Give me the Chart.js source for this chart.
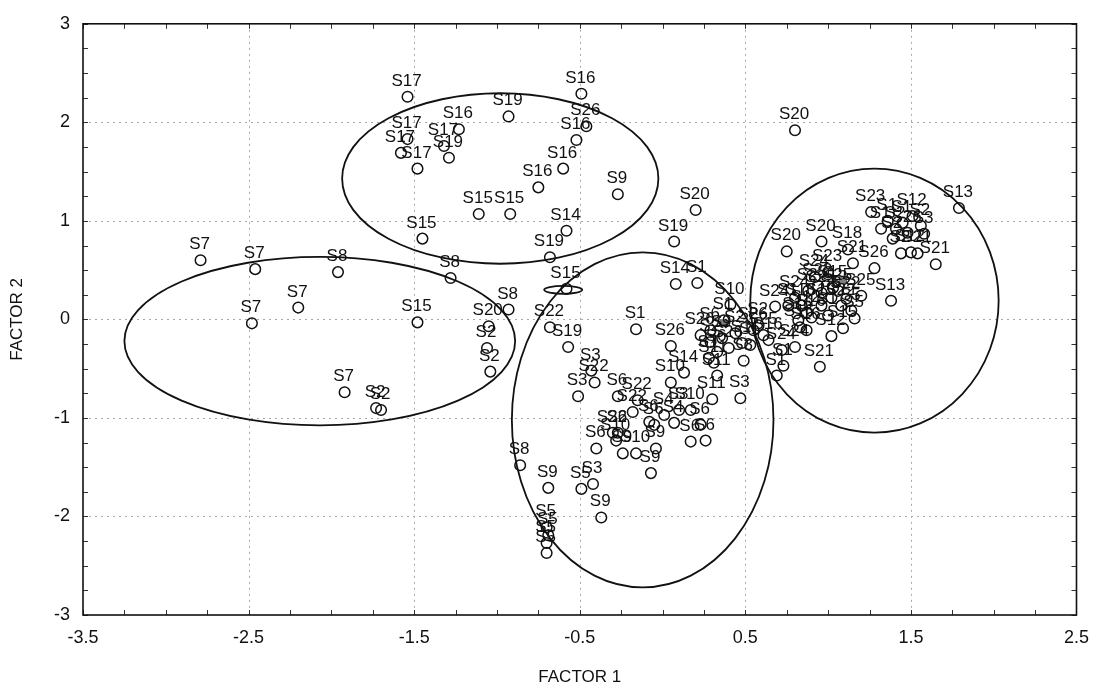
<!DOCTYPE html>
<html>
<head>
<meta charset="utf-8">
<script src="https://cdn.jsdelivr.net/npm/chart.js@4/dist/chart.umd.min.js"></script>
<style>
  html, body { margin: 0; padding: 0; background: #fff; }
  canvas { display: block; }
</style>
</head>
<body>
<canvas id="c" width="1101" height="692"></canvas>
<script>
// ---- data ----
const pointLabels = [
  // upper-left group
  'S17','S17','S17','S17','S16','S17','S19','S19','S16','S26','S16','S16','S16','S9','S15','S15','S14','S19','S15',
  // left group
  'S7','S7','S8','S7','S7','S15','S8','S8','S20','S2','S2','S7','S2','S2',
  // middle group
  'S15','S14','S1','S20','S19','S20','S22','S19','S1','S26','S10','S3','S22','S3','S14','S10','S6','S22','S22','S4',
  'S3','S10','S11','S11','S3','S6','S6','S4','S6','S6','S6','S22','S6','S10','S6','S9','S10','S9','S9','S5',
  'S3','S9','S9','S8','S5','S5','S5','S5',
  // centre-right dense
  'S6','S9','S2','S26','S1','S2','S6','S1','S3','S11','S26','S1','S2','S1','S16',
  // between middle and right
  'S25','S16','S16','S24','S24','S1','S1','S21','S12','S15','S26','S13','S25',
  // right group
  'S24','S23','S21','S26','S22','S2','S24','S5','S25','S1','S16','S15','S22','S5','S16','S1','S24',
  'S23','S13','S20','S20','S18','S21','S2','S2','S12','S21','S1','S2','S12','S1','S2','S26','S1','S3',
  'S12','S15','S22','S25','S16','S5'
];
const factor1 = [
  -1.54,-1.54,-1.58,-1.48,-1.23,-1.32,-1.29,-0.93,-0.49,-0.46,-0.52,-0.60,-0.75,-0.27,-1.11,-0.92,-0.58,-0.68,-1.45,
  -2.79,-2.46,-1.96,-2.20,-2.48,-1.48,-1.28,-0.93,-1.05,-1.06,-1.04,-1.92,-1.73,-1.70,
  -0.58,0.08,0.21,0.20,0.07,0.80,-0.68,-0.57,-0.16,0.05,0.41,-0.43,-0.41,-0.51,0.13,0.05,-0.27,-0.15,-0.18,0.01,
  0.10,0.17,0.30,0.33,0.47,-0.08,-0.05,0.07,0.23,0.26,0.17,-0.30,-0.27,-0.28,-0.40,-0.24,-0.16,-0.04,-0.07,-0.49,
  -0.42,-0.37,-0.69,-0.86,-0.70,-0.69,-0.70,-0.70,
  0.29,0.36,0.29,0.40,0.48,0.44,0.33,0.28,0.49,0.31,0.23,0.37,0.58,0.53,0.64,
  0.61,0.83,0.87,0.72,0.80,0.73,0.69,0.95,1.02,1.09,0.55,1.38,1.20,
  0.92,1.00,1.15,1.28,0.94,0.88,0.80,1.02,1.06,0.76,0.84,0.96,1.08,1.14,0.90,1.00,0.68,
  1.26,1.79,0.96,0.75,1.12,1.65,1.39,1.44,1.50,1.54,1.36,1.41,1.51,1.45,1.56,1.48,1.32,1.58,
  0.87,1.03,1.11,0.96,0.82,1.16
];
const factor2 = [
  2.26,1.83,1.69,1.53,1.93,1.76,1.64,2.06,2.29,1.96,1.82,1.53,1.34,1.27,1.07,1.07,0.90,0.63,0.82,
  0.60,0.51,0.48,0.12,-0.04,-0.03,0.42,0.10,-0.07,-0.29,-0.53,-0.74,-0.90,-0.92,
  0.31,0.36,0.37,1.11,0.79,1.92,-0.08,-0.28,-0.10,-0.27,0.15,-0.52,-0.64,-0.78,-0.54,-0.64,-0.78,-0.82,-0.94,-0.97,
  -0.92,-0.92,-0.81,-0.57,-0.80,-1.04,-1.07,-1.05,-1.07,-1.23,-1.24,-1.15,-1.15,-1.23,-1.31,-1.36,-1.36,-1.31,-1.56,-1.72,
  -1.67,-2.01,-1.71,-1.48,-2.11,-2.19,-2.27,-2.37,
  -0.11,-0.19,-0.23,-0.29,-0.24,-0.14,-0.33,-0.39,-0.42,-0.44,-0.16,-0.01,-0.06,-0.26,-0.21,
  -0.16,-0.08,-0.11,-0.31,-0.28,-0.47,-0.57,-0.48,-0.17,-0.09,-0.11,0.19,0.24,
  0.43,0.48,0.57,0.52,0.34,0.29,0.22,0.22,0.29,0.14,0.14,0.14,0.14,0.09,0.02,0.04,0.13,
  1.09,1.13,0.79,0.69,0.71,0.56,0.82,0.67,0.68,0.67,1.00,0.92,1.05,0.98,0.95,0.88,0.92,0.87,
  0.07,0.32,0.21,0.27,-0.01,0.01
];
// filled grey markers
const centroidX = [1.09, 0.37];
const centroidY = [0.40, -0.04];
// group ellipses (centre and semi-axes, in factor units)
const ellipseCx = [-0.98, -2.07, -0.12, 1.28, -0.60];
const ellipseCy = [1.43, -0.22, -1.02, 0.19, 0.30];
const ellipseRx = [0.955, 1.18, 0.79, 0.75, 0.115];
const ellipseRy = [0.865, 0.855, 1.70, 1.34, 0.04];
// axis ticks
const xTickValues = [-3.5, -2.5, -1.5, -0.5, 0.5, 1.5, 2.5];
const yTickValues = [-3, -2, -1, 0, 1, 2, 3];
const minorStep = 0.25;

const FAMILY = '"Liberation Sans", Arial, Helvetica, sans-serif';

const bgPlugin = {
  id: 'bg',
  beforeDraw(chart) {
    const c = chart.ctx;
    c.save(); c.fillStyle = '#fff'; c.fillRect(0, 0, chart.width, chart.height); c.restore();
  }
};

const framePlugin = {
  id: 'frame',
  beforeDatasetsDraw(chart) {
    const c = chart.ctx, a = chart.chartArea, xs = chart.scales.x, ys = chart.scales.y;
    c.save();
    // dotted grid lines
    c.strokeStyle = '#a8a8a8'; c.lineWidth = 1; c.setLineDash([2, 4]);
    xTickValues.forEach(v => {
      const px = Math.round(xs.getPixelForValue(v)) + 0.5;
      if (px <= a.left + 1 || px >= a.right - 1) return;
      c.beginPath(); c.moveTo(px, a.top); c.lineTo(px, a.bottom); c.stroke();
    });
    yTickValues.forEach(v => {
      const py = Math.round(ys.getPixelForValue(v)) + 0.5;
      if (py <= a.top + 1 || py >= a.bottom - 1) return;
      c.beginPath(); c.moveTo(a.left, py); c.lineTo(a.right, py); c.stroke();
    });
    c.setLineDash([]);
    // minor ticks on all four sides
    c.strokeStyle = '#333'; c.lineWidth = 1;
    const tl = 5;
    for (let v = xs.min; v <= xs.max + 1e-9; v += minorStep) {
      const px = Math.round(xs.getPixelForValue(v)) + 0.5;
      c.beginPath(); c.moveTo(px, a.bottom); c.lineTo(px, a.bottom - tl); c.stroke();
      c.beginPath(); c.moveTo(px, a.top); c.lineTo(px, a.top + tl); c.stroke();
    }
    for (let v = ys.min; v <= ys.max + 1e-9; v += minorStep) {
      const py = Math.round(ys.getPixelForValue(v)) + 0.5;
      c.beginPath(); c.moveTo(a.left, py); c.lineTo(a.left + tl, py); c.stroke();
      c.beginPath(); c.moveTo(a.right, py); c.lineTo(a.right - tl, py); c.stroke();
    }
    // frame
    c.strokeStyle = '#111'; c.lineWidth = 1.6;
    c.strokeRect(a.left, a.top, a.right - a.left, a.bottom - a.top);
    c.restore();
  }
};

const ellipsePlugin = {
  id: 'ellipses',
  afterDatasetsDraw(chart) {
    const c = chart.ctx, xs = chart.scales.x, ys = chart.scales.y;
    c.save();
    c.strokeStyle = '#111'; c.lineWidth = 1.8;
    ellipseCx.forEach((cx, i) => {
      const px = xs.getPixelForValue(cx), py = ys.getPixelForValue(ellipseCy[i]);
      const rx = Math.abs(xs.getPixelForValue(cx + ellipseRx[i]) - px);
      const ry = Math.abs(ys.getPixelForValue(ellipseCy[i] + ellipseRy[i]) - py);
      c.beginPath(); c.ellipse(px, py, rx, ry, 0, 0, Math.PI * 2); c.stroke();
    });
    c.restore();
  }
};

const labelPlugin = {
  id: 'pointLabels',
  afterDatasetsDraw(chart) {
    const c = chart.ctx, meta = chart.getDatasetMeta(0);
    c.save();
    c.font = '17px ' + FAMILY; c.fillStyle = '#111';
    c.textAlign = 'center'; c.textBaseline = 'alphabetic';
    meta.data.forEach((el, i) => {
      c.fillText(pointLabels[i], el.x - 1, el.y - 11);
    });
    c.restore();
  }
};

new Chart(document.getElementById('c'), {
  type: 'scatter',
  data: {
    datasets: [
      {
        data: factor1.map((x, i) => ({ x: x, y: factor2[i] })),
        pointRadius: 5.3, pointHoverRadius: 5.3,
        pointBorderColor: '#111', pointBackgroundColor: 'rgba(0,0,0,0)', pointBorderWidth: 1.5,
        showLine: false
      },
      {
        data: centroidX.map((x, i) => ({ x: x, y: centroidY[i] })),
        pointStyle: 'rect', pointRadius: 5,
        pointBackgroundColor: '#7d7d7d', pointBorderColor: '#666', pointBorderWidth: 1,
        showLine: false
      }
    ]
  },
  options: {
    responsive: false, animation: false, devicePixelRatio: 1,
    layout: { padding: { left: 0, top: 23, right: 23, bottom: 0 } },
    plugins: { legend: { display: false }, tooltip: { enabled: false } },
    scales: {
      x: {
        type: 'linear', min: -3.5, max: 2.5,
        afterBuildTicks: s => { s.ticks = xTickValues.map(v => ({ value: v })); },
        afterFit: s => { s.height = 77; },
        ticks: { font: { size: 18, family: FAMILY }, color: '#111', padding: 12, autoSkip: false, maxRotation: 0,
                 callback: v => String(v) },
        grid: { display: false, drawTicks: false },
        border: { display: false },
        title: { display: true, text: 'FACTOR 1', color: '#111', font: { size: 17, family: FAMILY },
                 padding: { top: 0, bottom: 4 } }
      },
      y: {
        type: 'linear', min: -3, max: 3,
        afterBuildTicks: s => { s.ticks = yTickValues.map(v => ({ value: v })); },
        afterFit: s => { s.width = 83; },
        ticks: { font: { size: 18, family: FAMILY }, color: '#111', padding: 13, autoSkip: false,
                 callback: v => String(v) },
        grid: { display: false, drawTicks: false },
        border: { display: false },
        title: { display: true, text: 'FACTOR 2', color: '#111', font: { size: 17, family: FAMILY },
                 padding: { top: 7, bottom: 0 } }
      }
    }
  },
  plugins: [bgPlugin, framePlugin, ellipsePlugin, labelPlugin]
});
</script>
</body>
</html>
